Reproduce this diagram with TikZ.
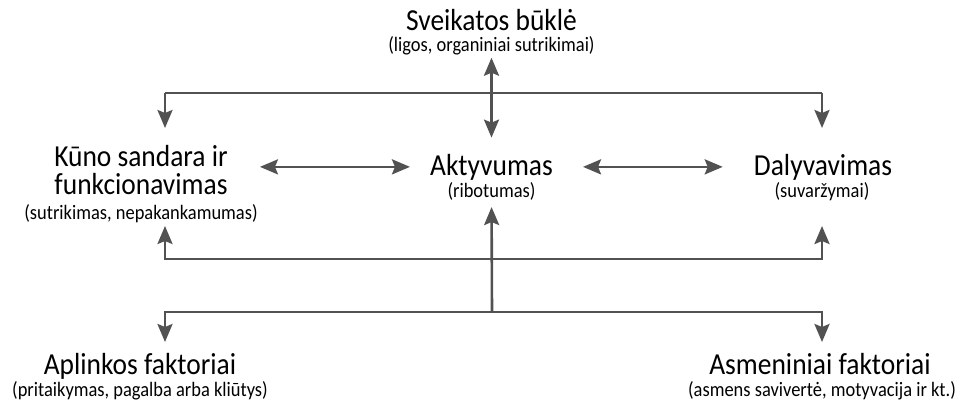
\documentclass[tikz,border=0pt]{standalone}
\usepackage{fontspec}
\setmainfont[FakeStretch=0.9]{Carlito}
\usetikzlibrary{arrows.meta,positioning}

\begin{document}
\begin{tikzpicture}[
  x=1pt, y=-1pt,
  head/.style={inner sep=0pt, anchor=base, align=center,
               font=\fontsize{30.5}{27.5}\selectfont},
  note/.style={inner sep=0pt, anchor=base, font=\fontsize{20.5}{20}\selectfont},
  link/.style={draw=black!68, line width=2.6pt, line join=miter},
  flow/.style={link, -{Stealth[length=18pt, width=15pt, inset=3pt]}},
  both/.style={link, {Stealth[length=18pt, width=15pt, inset=3pt]}-{Stealth[length=18pt, width=15pt, inset=3pt]}},
]
  \useasboundingbox (0,0) rectangle (959,402);

  % Health condition
  \node[head] (health) at (491.5,30) {Sveikatos būklė};
  \node[note] (healthsub) at (491.5,51) {(ligos, organiniai sutrikimai)};

  % Middle row
  \node[head] (body) at (141,194) {Kūno sandara ir\\funkcionavimas};
  \node[note] (bodysub) at (141,219) {(sutrikimas, nepakankamumas)};
  \node[head] (activity) at (491.5,175) {Aktyvumas};
  \node[note] (activitysub) at (491.5,197) {(ribotumas)};
  \node[head] (partic) at (823,175) {Dalyvavimas};
  \node[note] (particsub) at (822,197) {(suvaržymai)};

  % Context factors
  \node[head] (envir) at (140,374) {Aplinkos faktoriai};
  \node[note] (envirsub) at (140,396) {(pritaikymas, pagalba arba kliūtys)};
  \node[head] (person) at (820,374) {Asmeniniai faktoriai};
  \node[note] (personsub) at (822,396) {(asmens savivertė, motyvacija ir kt.)};

  % Bus points
  \coordinate (topL) at (165,93);
  \coordinate (topR) at (822,93);
  \coordinate (topLtip) at (165,128);
  \coordinate (topRtip) at (822,128);
  \coordinate (midL) at (165,259);
  \coordinate (midR) at (822,259);
  \coordinate (midLtip) at (165,226);
  \coordinate (midRtip) at (822,226);
  \coordinate (lowL) at (165,312);
  \coordinate (lowR) at (822,312);
  \coordinate (lowC) at (492,312);
  \coordinate (lowLtip) at (165,342);
  \coordinate (lowRtip) at (822,342);

  % Connections
  \draw[both, shorten <=3pt, shorten >=16pt] (healthsub) -- (activity);
  \draw[link] (topL) -- (topR);
  \draw[flow] (topL) -- (topLtip);
  \draw[flow] (topR) -- (topRtip);
  \draw[both, shorten <=32pt, shorten >=20pt] (activity.west -| body.east) -- (activity.west);
  \draw[both, shorten <=30pt, shorten >=31pt] (activity.east) -- (activity.east -| partic.west);
  \draw[both] (midLtip) -- (midL) -- (midR) -- (midRtip);
  \draw[flow, shorten >=7pt] (lowC) -- (activitysub);
  \draw[both] (lowLtip) -- (lowL) -- (lowR) -- (lowRtip);

\end{tikzpicture}
\end{document}
